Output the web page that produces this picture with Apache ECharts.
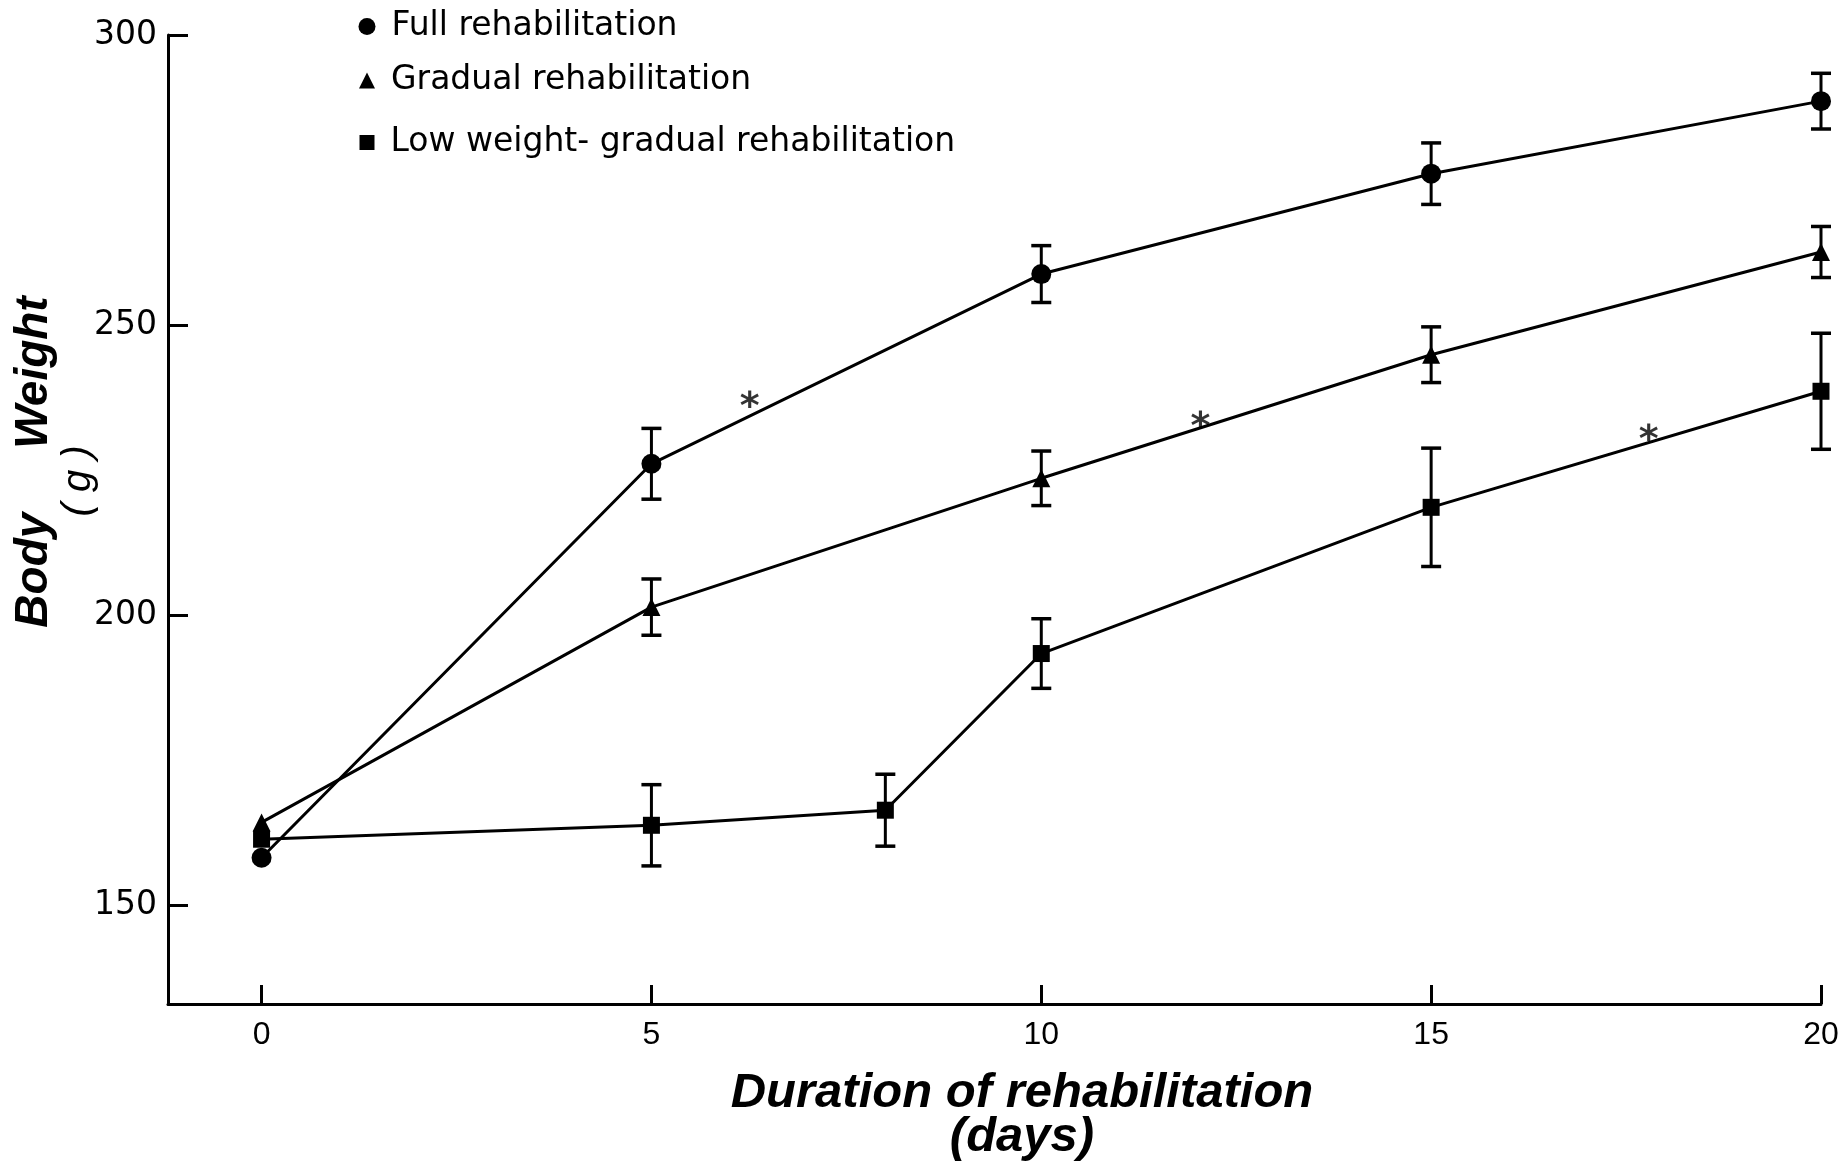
<!DOCTYPE html>
<html>
<head>
<meta charset="utf-8">
<script src="https://cdn.jsdelivr.net/npm/echarts@6/dist/echarts.min.js"></script>
<style>
  html, body { margin: 0; padding: 0; background: #fff; }
  #chart { width: 1847px; height: 1161px; }
</style>
</head>
<body>
<div id="chart"></div>
<script>
// Body weight (g) during rehabilitation, mean ± SEM
const days = [0, 5, 10, 15, 20];
const lowDays = [0, 5, 8, 10, 15, 20];

const fullWeight = [158.2, 226.1, 258.8, 276.1, 288.6];
const fullSem = [null, 6.1, 4.9, 5.3, 4.8];

const gradualWeight = [164.3, 201.4, 223.6, 244.9, 262.6];
const gradualSem = [null, 4.85, 4.7, 4.8, 4.4];

const lowWeight = [161.4, 163.8, 166.4, 193.4, 218.6, 238.6];
const lowSem = [null, 7.0, 6.2, 6.0, 10.2, 10.0];

// significance marks (*) placed along each curve
const starDays = [6.26, 12.04, 17.79];
const starWeights = [237.1, 233.7, 231.4];

const xTicks = [0, 5, 10, 15, 20];
const yTicks = [150, 200, 250, 300];

const seriesNames = ['Full rehabilitation', 'Gradual rehabilitation', 'Low weight- gradual rehabilitation'];

const INK = '#000';

function points(xs, ys) {
  return xs.map((x, i) => [x, ys[i]]);
}
function errorPoints(xs, ys, es) {
  const out = [];
  xs.forEach((x, i) => { if (es[i] != null) out.push([x, ys[i], es[i]]); });
  return out;
}

function renderErrorBar(params, api) {
  const x = api.value(0), y = api.value(1), e = api.value(2);
  const top = api.coord([x, y + e]);
  const bot = api.coord([x, y - e]);
  const half = 10;
  const capStyle = { stroke: INK, lineWidth: 3.5 };
  return {
    type: 'group',
    children: [
      { type: 'line', shape: { x1: top[0], y1: top[1], x2: bot[0], y2: bot[1] }, style: { stroke: INK, lineWidth: 3 } },
      { type: 'line', shape: { x1: top[0] - half, y1: top[1], x2: top[0] + half, y2: top[1] }, style: capStyle },
      { type: 'line', shape: { x1: bot[0] - half, y1: bot[1], x2: bot[0] + half, y2: bot[1] }, style: capStyle }
    ]
  };
}

function lineSeries(name, data, symbol, size) {
  return {
    name, type: 'line', data, symbol, symbolSize: size,
    lineStyle: { color: INK, width: 3 },
    itemStyle: { color: INK },
    z: 4, silent: true
  };
}
function errorSeries(data) {
  return {
    type: 'custom', data, renderItem: renderErrorBar,
    encode: { x: 0, y: 1 }, z: 3, silent: true
  };
}

const legendText = { fontFamily: 'DejaVu Sans', fontSize: 33, color: INK, padding: [0, 0, 0, 11] };
function legendRow(name, icon, size, top) {
  return {
    data: [{ name, icon }], left: 367 - size / 2, top, padding: 0,
    itemWidth: size, itemHeight: size, textStyle: legendText,
    selectedMode: false
  };
}

const chart = echarts.init(document.getElementById('chart'));
chart.setOption({
  animation: false,
  backgroundColor: '#fff',
  grid: { left: 168, right: 26, top: 35, bottom: 157, containLabel: false, outerBoundsMode: 'none' },
  legend: [
    legendRow(seriesNames[0], 'circle', 17, 10),
    legendRow(seriesNames[1], 'triangle', 16, 64),
    legendRow(seriesNames[2], 'rect', 15, 126)
  ],
  xAxis: {
    type: 'value', min: -1.2, max: 20,
    axisLine: { show: true, onZero: false, lineStyle: { color: INK, width: 3 } },
    axisTick: { show: true, inside: true, length: 19, customValues: xTicks, lineStyle: { color: INK, width: 3 } },
    axisLabel: { show: true, customValues: xTicks, margin: 15, color: INK, fontFamily: 'Liberation Sans', fontSize: 32 },
    splitLine: { show: false },
    name: 'Duration of rehabilitation\n(days)',
    nameLocation: 'middle', nameGap: 67,
    nameTextStyle: {
      fontFamily: 'Liberation Sans', fontStyle: 'italic', fontWeight: 'bold',
      fontSize: 49, lineHeight: 44, color: INK, padding: [0, 0, 0, 55]
    }
  },
  yAxis: {
    type: 'value', min: 133, max: 300,
    axisLine: { show: true, onZero: false, lineStyle: { color: INK, width: 3 } },
    axisTick: { show: true, inside: true, length: 20, customValues: yTicks, lineStyle: { color: INK, width: 3 } },
    axisLabel: { show: true, customValues: yTicks, margin: 11, color: INK, fontFamily: 'DejaVu Sans', fontSize: 33 },
    splitLine: { show: false }
  },
  graphic: [
    {
      type: 'text', x: 34, y: 462, rotation: Math.PI / 2,
      style: { text: 'Body     Weight', font: 'italic bold 46px "Liberation Sans"', fill: INK, align: 'center', verticalAlign: 'middle' }
    },
    {
      type: 'text', x: 79, y: 481, rotation: Math.PI / 2,
      style: { text: '( g )', font: 'italic 40px "Liberation Sans"', fill: INK, align: 'center', verticalAlign: 'middle' }
    }
  ],
  series: [
    errorSeries(errorPoints(days, fullWeight, fullSem)),
    errorSeries(errorPoints(days, gradualWeight, gradualSem)),
    errorSeries(errorPoints(lowDays, lowWeight, lowSem)),
    lineSeries(seriesNames[0], points(days, fullWeight), 'circle', 20),
    lineSeries(seriesNames[1], points(days, gradualWeight), 'triangle', 18),
    lineSeries(seriesNames[2], points(lowDays, lowWeight), 'rect', 17),
    {
      type: 'scatter', data: points(starDays, starWeights),
      symbolSize: 1, itemStyle: { color: 'rgba(0,0,0,0)' }, silent: true, z: 5,
      label: { show: true, position: 'inside', formatter: '*', fontFamily: 'DejaVu Sans', fontWeight: 'bold', fontSize: 38, color: INK, offset: [0, 8] }
    }
  ]
});
</script>
</body>
</html>
